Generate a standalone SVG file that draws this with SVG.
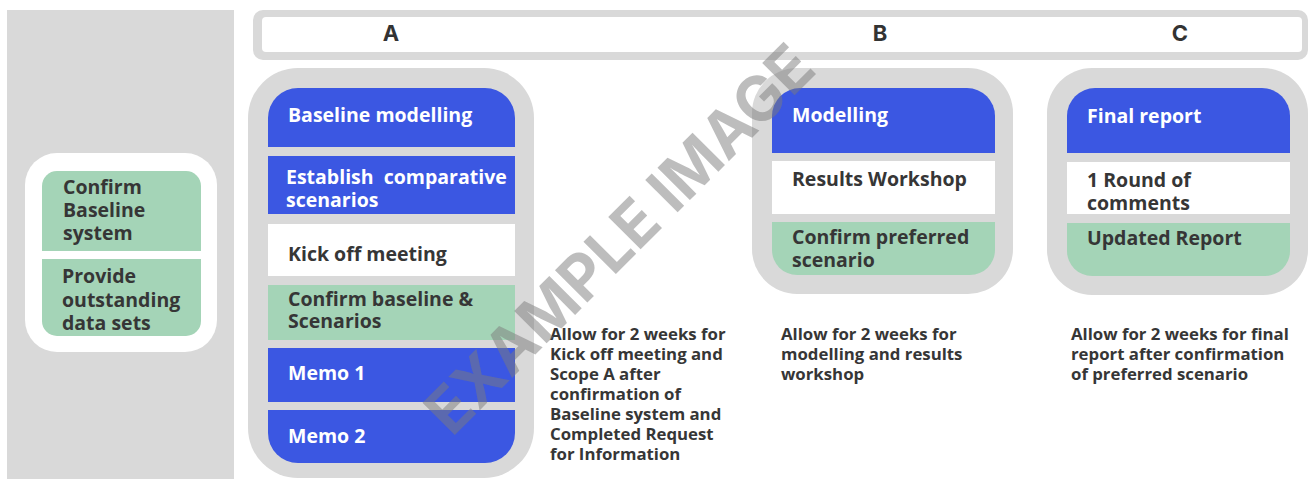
<svg xmlns="http://www.w3.org/2000/svg" width="1308" height="479" viewBox="0 0 1308 479">
<style>
.panel{fill:#d9d9d9}
.blue{fill:#3b57e2}
.green{fill:#a4d4b7}
.white{fill:#ffffff}
.t{font-family:"Open Sans","Noto Sans",sans-serif;font-weight:700;font-size:19.5px;fill:#363636}
.tw{font-family:"Open Sans","Noto Sans",sans-serif;font-weight:700;font-size:19.5px;fill:#ffffff}
.d{font-family:"Open Sans","Noto Sans",sans-serif;font-weight:700;font-size:16.8px;fill:#363636}
.h{font-family:Inter,"Liberation Sans",sans-serif;font-weight:700;font-size:22px;fill:#333333}
.wm{font-family:Inter,"Liberation Sans",sans-serif;font-weight:700;font-size:63px;fill:#7c7c7c;fill-opacity:0.5}
</style>
<rect width="1308" height="479" fill="#ffffff"/>

<g id="left-panel">
<rect class="panel" x="7" y="10" width="227" height="469"/>
</g>

<g id="header">
<rect class="panel" x="253" y="10" width="1055" height="50" rx="10"/>
<rect class="white" x="262" y="17" width="1040" height="35" rx="4"/>
<text class="h" x="391" y="41" text-anchor="middle">A</text>
<text class="h" x="880" y="41" text-anchor="middle">B</text>
<text class="h" x="1180" y="41" text-anchor="middle">C</text>
</g>

<g id="node-client">
<rect class="white" x="25" y="153" width="192" height="199" rx="32"/>
<path class="green" d="M42 251 L42 186 A15 15 0 0 1 57 171 L186 171 A15 15 0 0 1 201 186 L201 251 Z"/>
<path class="green" d="M42 259 L201 259 L201 321 A15 15 0 0 1 186 336 L57 336 A15 15 0 0 1 42 321 Z"/>
<text class="t" x="63" y="194">Confirm</text>
<text class="t" x="63" y="217">Baseline</text>
<text class="t" x="63" y="240">system</text>
<text class="t" x="62" y="283">Provide</text>
<text class="t" x="62" y="307">outstanding</text>
<text class="t" x="62" y="330">data sets</text>
</g>

<g id="node-a">
<rect class="panel" x="248" y="68" width="286" height="410" rx="50"/>
<path class="blue" d="M268 147 L268 118 A30 30 0 0 1 298 88 L485 88 A30 30 0 0 1 515 118 L515 147 Z"/>
<rect class="blue" x="268" y="156" width="247" height="58"/>
<rect class="white" x="268" y="224" width="247" height="52"/>
<rect class="green" x="268" y="285" width="247" height="55"/>
<rect class="blue" x="268" y="348" width="247" height="54"/>
<path class="blue" d="M268 410 L515 410 L515 433 A30 30 0 0 1 485 463 L298 463 A30 30 0 0 1 268 433 Z"/>
<text class="tw" x="288" y="122">Baseline modelling</text>
<text class="tw" x="286" y="184" xml:space="preserve">Establish  comparative</text>
<text class="tw" x="286" y="207">scenarios</text>
<text class="t" x="288" y="261">Kick off meeting</text>
<text class="t" x="288" y="306">Confirm baseline &amp;</text>
<text class="t" x="288" y="328">Scenarios</text>
<text class="tw" x="288" y="380">Memo 1</text>
<text class="tw" x="288" y="443">Memo 2</text>
</g>

<g id="note-a">
<text class="d" x="550" y="340">Allow for 2 weeks for</text>
<text class="d" x="550" y="360">Kick off meeting and</text>
<text class="d" x="550" y="380">Scope A after</text>
<text class="d" x="550" y="400">confirmation of</text>
<text class="d" x="550" y="420">Baseline system and</text>
<text class="d" x="550" y="440">Completed Request</text>
<text class="d" x="550" y="460">for Information</text>
</g>

<g id="node-b">
<rect class="panel" x="752" y="68" width="261" height="226" rx="45"/>
<path class="blue" d="M772 153 L772 116 A28 28 0 0 1 800 88 L967 88 A28 28 0 0 1 995 116 L995 153 Z"/>
<rect class="white" x="772" y="161" width="223" height="53"/>
<path class="green" d="M772 222 L995 222 L995 250 A25 25 0 0 1 970 275 L797 275 A25 25 0 0 1 772 250 Z"/>
<text class="tw" x="792" y="122">Modelling</text>
<text class="t" x="792" y="186">Results Workshop</text>
<text class="t" x="792" y="244">Confirm preferred</text>
<text class="t" x="792" y="267">scenario</text>
</g>

<g id="note-b">
<text class="d" x="781" y="340">Allow for 2 weeks for</text>
<text class="d" x="781" y="360">modelling and results</text>
<text class="d" x="781" y="380">workshop</text>
</g>

<g id="node-c">
<rect class="panel" x="1047" y="68" width="261" height="227" rx="45"/>
<path class="blue" d="M1067 153 L1067 116 A28 28 0 0 1 1095 88 L1262 88 A28 28 0 0 1 1290 116 L1290 153 Z"/>
<rect class="white" x="1067" y="162" width="223" height="52"/>
<path class="green" d="M1067 223 L1290 223 L1290 251 A25 25 0 0 1 1265 276 L1092 276 A25 25 0 0 1 1067 251 Z"/>
<text class="tw" x="1087" y="123">Final report</text>
<text class="t" x="1087" y="187">1 Round of</text>
<text class="t" x="1087" y="210">comments</text>
<text class="t" x="1087" y="245">Updated Report</text>
</g>

<g id="note-c">
<text class="d" x="1071" y="340">Allow for 2 weeks for final</text>
<text class="d" x="1071" y="360">report after confirmation</text>
<text class="d" x="1071" y="380">of preferred scenario</text>
</g>

<g id="connectors"/>

<g id="watermark">
<text class="wm" x="452" y="438" transform="rotate(-45 452 438)" textLength="518" lengthAdjust="spacingAndGlyphs">EXAMPLE IMAGE</text>
</g>
</svg>
